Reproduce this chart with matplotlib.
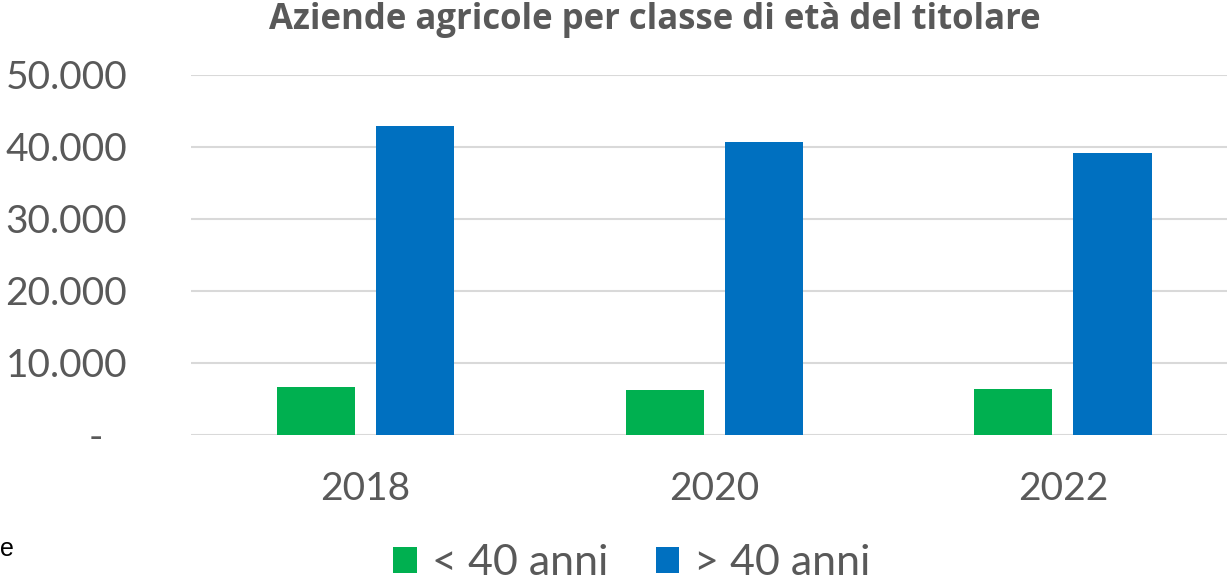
import matplotlib
matplotlib.use("Agg")
import matplotlib.pyplot as plt
import matplotlib.transforms as mtransforms
import numpy as np

years = ["2018", "2020", "2022"]
under_40 = [6600, 6250, 6400]
over_40 = [42900, 40700, 39200]
series_labels = ["< 40 anni", "> 40 anni"]
yticks = [0, 10000, 20000, 30000, 40000, 50000]
ytick_labels = ["", "10.000", "20.000", "30.000", "40.000", "50.000"]

green = "#00B050"
blue = "#0070C0"
grey = "#595959"
num_font = "Lato"
fs = 28

fig = plt.figure(figsize=(12.27, 5.83), dpi=100)
ax = fig.add_axes([0.1557, 0.2539, 0.8527, 0.6175])

x = np.arange(len(years))
w = 0.224
ax.bar(x - 0.142, under_40, w, color=green, label=series_labels[0], zorder=3)
ax.bar(x + 0.142, over_40, w, color=blue, label=series_labels[1], zorder=3)

ax.set_xlim(-0.5, len(years) - 0.5)
ax.set_ylim(0, 50000)
ax.set_yticks(yticks)
ax.set_yticklabels(ytick_labels)
ax.set_xticks(x)
ax.set_xticklabels(years)
ax.yaxis.grid(True, color="#D9D9D9", linewidth=1.5, zorder=0)
for s in ax.spines.values():
    s.set_visible(False)
ax.tick_params(axis="both", length=0, labelcolor=grey, labelsize=fs)
ax.tick_params(axis="y", pad=46)
ax.tick_params(axis="x", pad=26)
for lab in ax.get_xticklabels() + ax.get_yticklabels():
    lab.set_family(num_font)

# dash for zero (accounting format)
trans = mtransforms.blended_transform_factory(ax.transAxes, ax.transData)
ax.text(-0.084, -400, "-", transform=trans, ha="right", va="center",
        fontsize=fs, color=grey, family=num_font)

fig.text(0.534, 0.965, "Aziende agricole per classe di età del titolare",
         ha="center", va="center", fontsize=25, fontweight="bold",
         color=grey, family="Open Sans")

leg = fig.legend(loc="center", bbox_to_anchor=(0.515, 0.034), ncol=2, frameon=False,
                 handlelength=0.55, handleheight=0.55,
                 handletextpad=0.35, columnspacing=1.1,
                 prop={"family": num_font, "size": 31})
for t in leg.get_texts():
    t.set_color(grey)

# stray glyph at the left edge of the source image
fig.text(0.0, 0.058, "e", ha="left", va="center", fontsize=18,
         color="black", family="Liberation Sans")

fig.savefig("out.png", dpi=100)
